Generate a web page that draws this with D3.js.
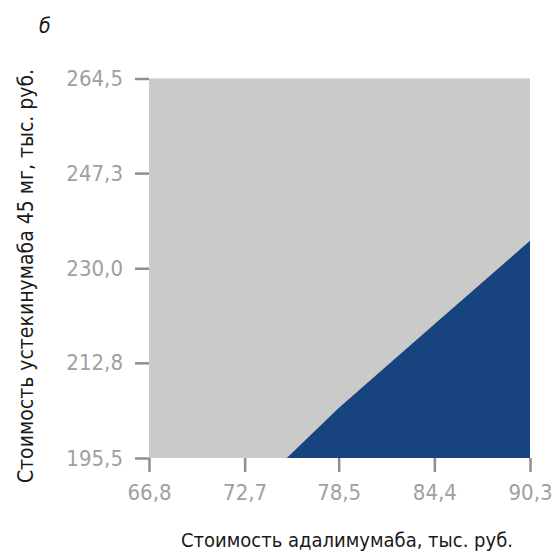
<!DOCTYPE html>
<html>
<head>
<meta charset="utf-8">
<script src="https://cdn.jsdelivr.net/npm/d3@7"></script>
<style>
  body { margin: 0; background: #fff; }
  text { font-family: "DejaVu Sans Condensed", "DejaVu Sans", sans-serif; }
</style>
</head>
<body>
<svg width="555" height="553"></svg>
<script>
const xTicks = [66.8, 72.7, 78.5, 84.4, 90.3];
const yTicks = [195.5, 212.8, 230.0, 247.3, 264.5];
// threshold boundary: adalimumab cost vs ustekinumab cost
const boundaryX = [75.3, 78.5, 84.4, 90.3];
const boundaryY = [195.5, 204.6, 219.8, 235.0];

const svg = d3.select("svg");
const plotLeft = 149, plotRight = 530, plotTop = 78.5, plotBottom = 458;

const x = d3.scaleLinear().domain([66.8, 90.3]).range([plotLeft, plotRight]);
const y = d3.scaleLinear().domain([195.5, 264.5]).range([plotBottom, plotTop]);
const fmt = d => d3.format(".1f")(d).replace(".", ",");

svg.append("rect")
  .attr("x", x(66.8)).attr("y", y(264.5))
  .attr("width", x(90.3) - x(66.8)).attr("height", y(195.5) - y(264.5))
  .attr("fill", "#c9cac9");

const poly = boundaryX.map((d, i) => [x(d), y(boundaryY[i])]);
poly.push([x(90.3), y(195.5)]);
svg.append("path")
  .attr("d", d3.line()(poly) + "Z")
  .attr("fill", "#17447f");

const gx = svg.append("g")
  .attr("transform", `translate(0,${plotBottom})`)
  .call(d3.axisBottom(x).tickValues(xTicks).tickFormat(fmt).tickSize(14).tickPadding(12));
const gy = svg.append("g")
  .attr("transform", `translate(${plotLeft},0)`)
  .call(d3.axisLeft(y).tickValues(yTicks).tickFormat(fmt).tickSize(14).tickPadding(12));

[gx, gy].forEach(g => {
  g.select(".domain").remove();
  g.selectAll("line").attr("stroke", "#8f8f8f").attr("stroke-width", 2.5);
  g.selectAll("text").attr("fill", "#a0a0a0").style("font-size", "22px");
});

svg.append("text")
  .attr("x", 347).attr("y", 547)
  .attr("text-anchor", "middle")
  .attr("fill", "#1a1a1a")
  .style("font-size", "20px")
  .text("Стоимость адалимумаба, тыс. руб.");

svg.append("text")
  .attr("transform", "translate(33,276) rotate(-90)")
  .attr("text-anchor", "middle")
  .attr("fill", "#1a1a1a")
  .style("font-size", "21px")
  .text("Стоимость устекинумаба 45 мг, тыс. руб.");

svg.append("text")
  .attr("x", 39).attr("y", 33)
  .attr("fill", "#1a1a1a")
  .style("font-size", "21px")
  .style("font-style", "italic")
  .text("б");
</script>
</body>
</html>
